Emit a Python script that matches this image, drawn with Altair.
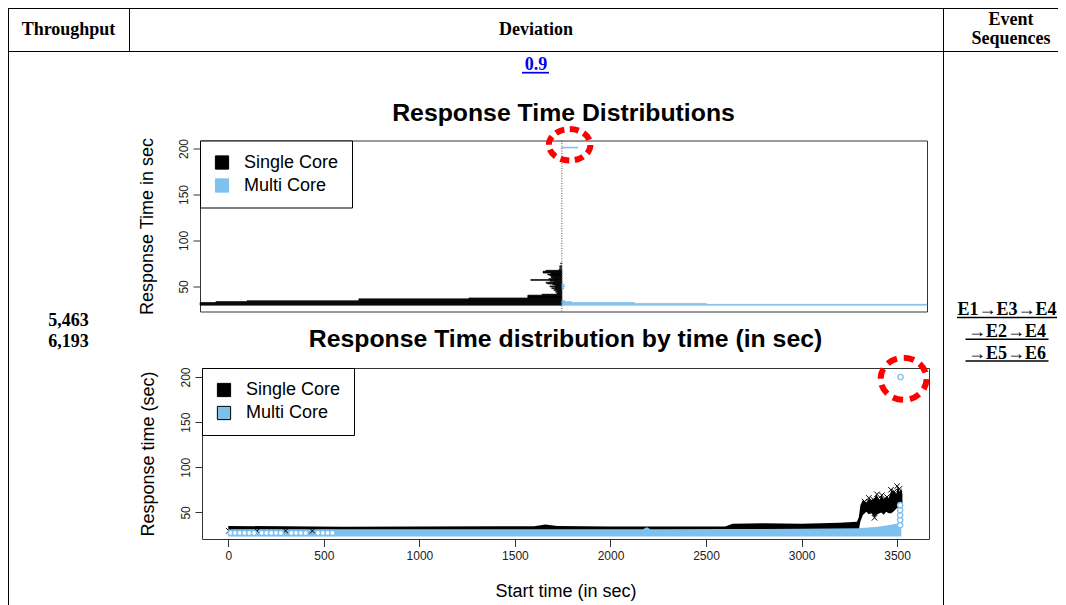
import altair as alt
import pandas as pd

# ---------------- table text ----------------
header_labels = ["Throughput", "Deviation", "Event\nSequences"]
throughput_values = ["5,463", "6,193"]
deviation_value = "0.9"
event_sequence_lines = ["E1→E3→E4", "→E2→E4", "→E5→E6"]

series_names = ["Single Core", "Multi Core"]
series_colors = ["#000000", "#7EC0EE"]

dist_title = "Response Time Distributions"
time_title = "Response Time distribution by time (in sec)"
dist_y_title = "Response Time in sec"
time_y_title = "Response time (sec)"
time_x_title = "Start time (in sec)"
rt_ticks = [50, 100, 150, 200]
time_ticks = [0, 500, 1000, 1500, 2000, 2500, 3000, 3500]

# ---------------- plot 1: back-to-back response time distribution ----------------
sc_rt = [30, 31, 32, 33, 34, 35, 36, 37, 38, 39, 40, 41, 42, 43, 44, 45, 46, 47, 48, 49, 50,
         51, 52, 53, 54, 55, 56, 57, 58, 59, 60, 61, 62, 63, 64, 65, 66, 67, 68, 70, 72, 75]
sc_count = [1000, 1000, 1000, 956, 870, 561, 561, 257, 94, 94, 94, 55, 14, 11, 17, 14, 22, 17, 28, 19, 33,
            17, 25, 39, 44, 22, 33, 86, 36, 25, 30, 28, 33, 39, 30, 52, 52, 44, 8, 6, 6, 3]
mc_rt = [30, 31, 32, 33, 34, 48, 50, 52, 201]
mc_count = [1009, 399, 200, 26, 9, 6, 8, 6, 44]
dist_mark_count = [21.5]
dist_mark_rt = [204]

# ---------------- plot 2: response time by start time ----------------
sc_band_t = [0, 300, 600, 1000, 1400, 1600, 1660, 1720, 2000, 2600, 2640, 2800, 3000, 3200, 3290,
             3300, 3308, 3321, 3339, 3352, 3365, 3382, 3391, 3408, 3417, 3430, 3443, 3456, 3470, 3487,
             3496, 3504, 3513, 3522, 3528]
sc_band_lo = [29.5, 29.5, 29.5, 29.5, 29.5, 29.5, 29.5, 29.5, 29.5, 29.5, 29.5, 29.5, 29.5, 29.5, 29.5,
              31, 40, 47, 50.8, 48, 48.9, 44.5, 47, 48.9, 50, 47.5, 50.8, 49, 48.9, 52,
              54.4, 55, 56, 58, 60]
sc_band_hi = [35, 34.5, 34, 34.3, 34.5, 34.5, 36.7, 34.8, 34.3, 34.3, 37.5, 38, 37.5, 38.5, 39.5,
              45, 58, 63.6, 61, 65, 63.6, 66, 69.9, 64, 69.2, 65, 67.3, 66, 74.6, 72.8,
              70, 80.2, 73, 76.5, 70]
mc_band_t = [0, 1000, 2000, 2170, 2190, 2210, 2600, 3000, 3300, 3400, 3461, 3500, 3522]
mc_band_lo = [23.2, 23.2, 23.2, 23.2, 23.2, 23.2, 23.2, 23.2, 23.2, 23.2, 23.2, 23.2, 23.2]
mc_band_hi = [31.3, 31.3, 31.3, 31.3, 33.4, 31.3, 31.5, 31.8, 32.3, 34, 36, 37.8, 38]

sc_mark_t = [3, 150, 300, 440, 3330, 3352, 3376, 3382, 3395, 3420, 3447, 3468, 3485, 3500, 3512]
sc_mark_rt = [29.5, 29.5, 29.5, 29.5, 62, 66, 64, 44, 70, 69, 67, 75, 73, 79, 76]
mc_mark_t = [12, 35, 60, 85, 110, 135, 175, 200, 225, 250, 275, 330, 355, 380, 405, 470, 495, 520, 545,
             3516, 3516, 3516, 3516, 3516, 3518]
mc_mark_rt = [27.3, 27.3, 27.3, 27.3, 27.3, 27.3, 27.3, 27.3, 27.3, 27.3, 27.3, 27.3, 27.3, 27.3, 27.3,
              27.3, 27.3, 27.3, 27.3, 36, 41.5, 47, 52.5, 58, 200]
time_mark_t = [3534]
time_mark_rt = [198]

# ---------------- styling ----------------
SANS = "Liberation Sans"
SERIF = "Liberation Serif"
BOX = alt.ViewBackground(stroke="#333333", strokeWidth=1)
NOBOX = alt.ViewBackground(strokeWidth=0)
X_SHAPE = "M -1 -1 L 1 1 M -1 1 L 1 -1"
RING_WIDE = ("M -1 0 C -1 -0.417 -0.5523 -0.755 0 -0.755 C 0.5523 -0.755 1 -0.417 1 0 "
             "C 1 0.417 0.5523 0.755 0 0.755 C -0.5523 0.755 -1 0.417 -1 0 Z")
RING_ROUND = ("M -1 0 C -1 -0.504 -0.5523 -0.913 0 -0.913 C 0.5523 -0.913 1 -0.504 1 0 "
              "C 1 0.504 0.5523 0.913 0 0.913 C -0.5523 0.913 -1 0.504 -1 0 Z")

color_scale = alt.Scale(domain=series_names, range=series_colors)


def legend():
    return alt.Legend(title=None, orient="top-left", offset=0, fillColor="white", strokeColor="black",
                      padding=13, symbolType="square", symbolSize=175, symbolStrokeColor="black",
                      symbolStrokeWidth=1, symbolOffset=0, symbolOpacity=1, labelFont=SANS,
                      labelFontSize=18, labelColor="black", labelOffset=13, rowPadding=5,
                      cornerRadius=0, labelLimit=0)


def y_axis(title, pad):
    return alt.Axis(values=rt_ticks, title=title, titleFont=SANS, titleFontSize=18,
                    titleFontWeight="normal", titleColor="black", titlePadding=pad,
                    labelFont=SANS, labelFontSize=12, labelColor="#222222", labelAngle=270,
                    labelAlign="center", labelBaseline="alphabetic", labelPadding=6,
                    labelOverlap=False, tickSize=7, tickColor="#333333", domain=False, grid=False)


def plot_title(text, offset):
    return alt.TitleParams(text=text, font=SANS, fontSize=24.8, fontWeight="bold", color="black",
                           anchor="middle", frame="group", baseline="alphabetic", offset=offset)


def text_cell(text, x, y, line_height=20, color="black"):
    return alt.Chart(pd.DataFrame({"label": [text]})).mark_text(
        font=SERIF, fontSize=18, fontWeight="bold", color=color, align="center",
        baseline="alphabetic", lineBreak="\n", lineHeight=line_height
    ).encode(text="label:N", x=alt.value(x), y=alt.value(y))


def underline(x1, x2, y, color="black", w=1.6):
    return alt.Chart(pd.DataFrame({"u": [0]})).mark_rect(color=color).encode(
        x=alt.value(x1), x2=alt.value(x2), y=alt.value(y - w / 2), y2=alt.value(y + w / 2))


def border_left(height):
    return alt.Chart(pd.DataFrame({"u": [0]})).mark_rect(color="black").encode(
        x=alt.value(0), x2=alt.value(1), y=alt.value(0), y2=alt.value(height))


def border_top(width):
    return alt.Chart(pd.DataFrame({"u": [0]})).mark_rect(color="black").encode(
        x=alt.value(0), x2=alt.value(width), y=alt.value(0), y2=alt.value(1))


def spacer(width):
    return alt.Chart(pd.DataFrame({"s": [""]})).mark_text().encode(
        text="s:N", x=alt.value(width / 2), y=alt.value(5)).properties(width=width, height=10, view=NOBOX)


def independent(ch):
    return ch.resolve_scale(color="independent", stroke="independent").resolve_legend(
        color="independent", stroke="independent")


# ---------------- plot 1 ----------------
dist_df = pd.DataFrame(
    [{"series": "Single Core", "rt": r, "count": -c} for r, c in zip(sc_rt, sc_count)]
    + [{"series": "Multi Core", "rt": r, "count": c} for r, c in zip(mc_rt, mc_count)]
)
x1s = alt.Scale(domain=[-1000, 1009], nice=False, zero=False)
y1s = alt.Scale(domain=[22.7, 208.7], nice=False, zero=False)
ax1 = y_axis(dist_y_title, 20.5)

bars = alt.Chart(dist_df).transform_calculate(
    lo="datum.rt - 0.5", hi="datum.rt + 0.5", base="0"
).mark_rect(strokeWidth=0.6).encode(
    x=alt.X("base:Q", scale=x1s, axis=None),
    x2="count:Q",
    y=alt.Y("lo:Q", scale=y1s, axis=ax1),
    y2="hi:Q",
    color=alt.Color("series:N", scale=color_scale, legend=legend()),
    stroke=alt.Stroke("series:N", scale=color_scale, legend=None),
)
center = alt.Chart(pd.DataFrame({"c": [0]})).mark_rule(
    color="#555555", strokeWidth=1, strokeDash=[1, 1.5]
).encode(x=alt.X("c:Q", scale=x1s, axis=None))
ring1 = alt.Chart(pd.DataFrame({"count": dist_mark_count, "rt": dist_mark_rt})).mark_point(
    shape=RING_WIDE, size=1731, filled=False, color="red", strokeWidth=6, strokeDash=[9, 5.4], opacity=1
).encode(x=alt.X("count:Q", scale=x1s, axis=None), y=alt.Y("rt:Q", scale=y1s, axis=ax1))

plot1 = alt.layer(bars, center, ring1).properties(
    width=727, height=171, view=BOX, title=plot_title(dist_title, -28.5))

# ---------------- plot 2 ----------------
x2s = alt.Scale(domain=[-137.7, 3667], nice=False, zero=False)
y2s = alt.Scale(domain=[20.5, 210], nice=False, zero=False)
ax2 = y_axis(time_y_title, 21.5)
axx = alt.Axis(values=time_ticks, format="d", title=time_x_title, titleFont=SANS, titleFontSize=18,
               titleFontWeight="normal", titleColor="black", titlePadding=21,
               labelFont=SANS, labelFontSize=12, labelColor="#222222", labelAngle=0,
               labelPadding=4.2, labelFlush=False, labelOverlap=False, tickSize=7.5,
               tickColor="#333333", domain=False, grid=False)

sc_band = pd.DataFrame({"series": "Single Core", "t": sc_band_t, "lo": sc_band_lo, "hi": sc_band_hi})
mc_band = pd.DataFrame({"series": "Multi Core", "t": mc_band_t, "lo": mc_band_lo, "hi": mc_band_hi})


def band(df):
    return alt.Chart(df).mark_area(opacity=1).encode(
        x=alt.X("t:Q", scale=x2s, axis=axx),
        y=alt.Y("lo:Q", scale=y2s, axis=ax2),
        y2="hi:Q",
        color=alt.Color("series:N", scale=color_scale, legend=legend()),
    )


sc_pts = alt.Chart(pd.DataFrame({"t": sc_mark_t, "rt": sc_mark_rt})).mark_point(
    shape=X_SHAPE, size=30, filled=False, color="black", strokeWidth=1, opacity=1
).encode(x=alt.X("t:Q", scale=x2s, axis=axx), y=alt.Y("rt:Q", scale=y2s, axis=ax2))
mc_pts = alt.Chart(pd.DataFrame({"t": mc_mark_t, "rt": mc_mark_rt})).mark_point(
    shape="circle", size=28, filled=True, fill="white", stroke="#7EC0EE", strokeWidth=1.4, opacity=1
).encode(x=alt.X("t:Q", scale=x2s, axis=axx), y=alt.Y("rt:Q", scale=y2s, axis=ax2))
ring2 = alt.Chart(pd.DataFrame({"t": time_mark_t, "rt": time_mark_rt})).mark_point(
    shape=RING_ROUND, size=2116, filled=False, color="red", strokeWidth=6, strokeDash=[10.5, 6.8], opacity=1
).encode(x=alt.X("t:Q", scale=x2s, axis=axx), y=alt.Y("rt:Q", scale=y2s, axis=ax2))

plot2 = alt.layer(band(sc_band), band(mc_band), sc_pts, mc_pts, ring2).properties(
    width=727, height=171, view=BOX, title=plot_title(time_title, -26.4))

# ---------------- table assembly ----------------
HEAD_H = 43
BODY_H = 554
h1 = alt.layer(text_cell(header_labels[0], 60.5, 27.2), border_left(HEAD_H), border_top(121)).properties(
    width=121, height=HEAD_H, view=NOBOX)
h2 = alt.layer(text_cell(header_labels[1], 407, 27.2), border_left(HEAD_H), border_top(814)).properties(
    width=814, height=HEAD_H, view=NOBOX)
h3 = alt.layer(text_cell(header_labels[2], 68, 17.3, line_height=18.4), border_left(HEAD_H), border_top(115)).properties(
    width=115, height=HEAD_H, view=NOBOX)
header = alt.hconcat(h1, h2, h3, spacing=0)

left_cell = alt.layer(
    text_cell("\n".join(throughput_values), 60.5, 275, line_height=21), border_left(BODY_H), border_top(121)
).properties(width=121, height=BODY_H, view=NOBOX)

right_cell = alt.layer(
    text_cell("\n".join(event_sequence_lines), 64, 264, line_height=21.75),
    underline(14, 114, 266.5),
    underline(22.5, 105.5, 288.3),
    underline(22.5, 105.5, 310),
    border_left(BODY_H), border_top(115),
).properties(width=115, height=BODY_H, view=NOBOX)

link = alt.layer(
    text_cell(deviation_value, 407, 19, color="#0000EE"),
    underline(393, 420, 21.7, color="#0000EE", w=1.7),
    border_top(814),
).properties(width=814, height=37.2, view=NOBOX)

row1 = independent(alt.hconcat(spacer(8), plot1, spacing=0))
row2 = independent(alt.hconcat(spacer(8.4), plot2, spacing=0))
middle = independent(alt.vconcat(link, row1, row2, spacing=10.5))

body = independent(alt.hconcat(left_cell, middle, right_cell, spacing=0))

chart = independent(alt.vconcat(header, body, spacing=0)).properties(padding=0).configure_view(strokeWidth=0)

chart.save("out.html", embed_options={"renderer": "svg", "actions": False})
